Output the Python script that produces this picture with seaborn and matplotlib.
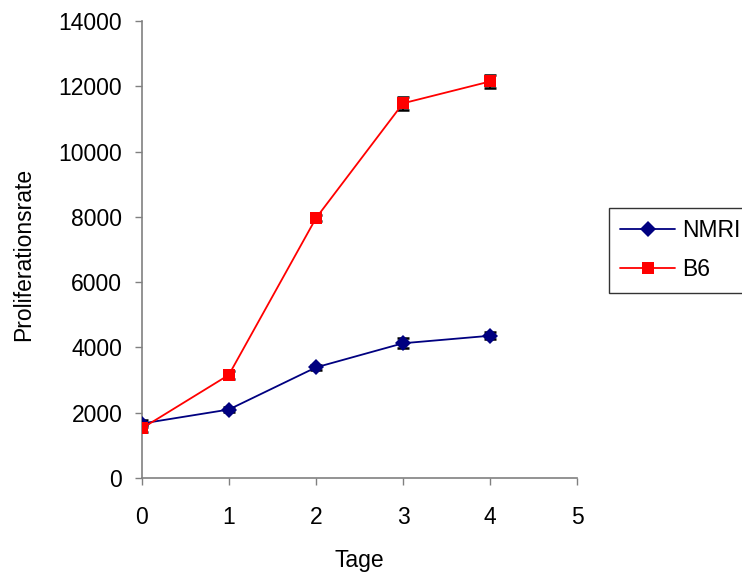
import matplotlib
matplotlib.use("Agg")
import matplotlib.pyplot as plt
import seaborn as sns
import pandas as pd

sns.set_style("white")
plt.rcParams["font.family"] = ["Liberation Sans", "DejaVu Sans"]
plt.rcParams["text.color"] = "black"
plt.rcParams["axes.labelcolor"] = "black"

# values
tage = [0, 1, 2, 3, 4]
nmri = [1670, 2100, 3390, 4130, 4360]
b6 = [1520, 3160, 7960, 11480, 12150]
nmri_err = [100, 80, 80, 150, 100]
b6_err = [120, 120, 100, 200, 200]

df = pd.DataFrame({
    "Tage": tage * 2,
    "Proliferationsrate": nmri + b6,
    "Gruppe": ["NMRI"] * len(tage) + ["B6"] * len(tage),
})

fs = 16.5

fig = plt.figure(figsize=(7.42, 5.76), dpi=100)
ax = fig.add_axes([0.191, 0.170, 0.587, 0.7935])

# error bars (black, drawn under the markers)
ax.errorbar(tage, nmri, yerr=nmri_err, fmt="none", ecolor="black",
            elinewidth=1.2, capsize=4.5, capthick=1.8, zorder=2)
ax.errorbar(tage, b6, yerr=b6_err, fmt="none", ecolor="black",
            elinewidth=1.2, capsize=4.5, capthick=1.8, zorder=2)

sns.lineplot(
    data=df, x="Tage", y="Proliferationsrate", hue="Gruppe", style="Gruppe",
    palette={"NMRI": "#000080", "B6": "#FF0000"},
    markers={"NMRI": "D", "B6": "s"}, dashes=False,
    markersize=8.5, markeredgewidth=0, linewidth=1.3, ax=ax, zorder=3,
)

ax.set_xlim(0, 5)
ax.set_ylim(0, 14000)
ax.set_xticks([0, 1, 2, 3, 4, 5])
ax.set_yticks(range(0, 14001, 2000))
ax.tick_params(axis="both", labelsize=fs, direction="out", length=5,
               width=1, color="#808080", labelcolor="black",
               left=True, bottom=True)
ax.tick_params(axis="x", pad=15)
ax.tick_params(axis="y", pad=9)
for side in ["top", "right"]:
    ax.spines[side].set_visible(False)
for side in ["left", "bottom"]:
    ax.spines[side].set_color("#808080")
    ax.spines[side].set_linewidth(1.2)

ax.set_xlabel("Tage", fontsize=fs)
ax.set_ylabel("Proliferationsrate", fontsize=fs)
ax.xaxis.set_label_coords(0.5, -0.155)
ax.yaxis.set_label_coords(-0.245, 0.49)

handles, labels = ax.get_legend_handles_labels()
ax.get_legend().remove()
leg = fig.legend(handles, labels, loc="upper left",
                 bbox_to_anchor=(609 / 742, 1 - 208 / 576),
                 frameon=True, fancybox=False, fontsize=fs,
                 handlelength=2.4, handletextpad=0.3, borderpad=0.5,
                 labelspacing=0.7, borderaxespad=0)
leg.get_frame().set_edgecolor("black")
leg.get_frame().set_linewidth(1.0)

fig.savefig("out.png", dpi=100)
